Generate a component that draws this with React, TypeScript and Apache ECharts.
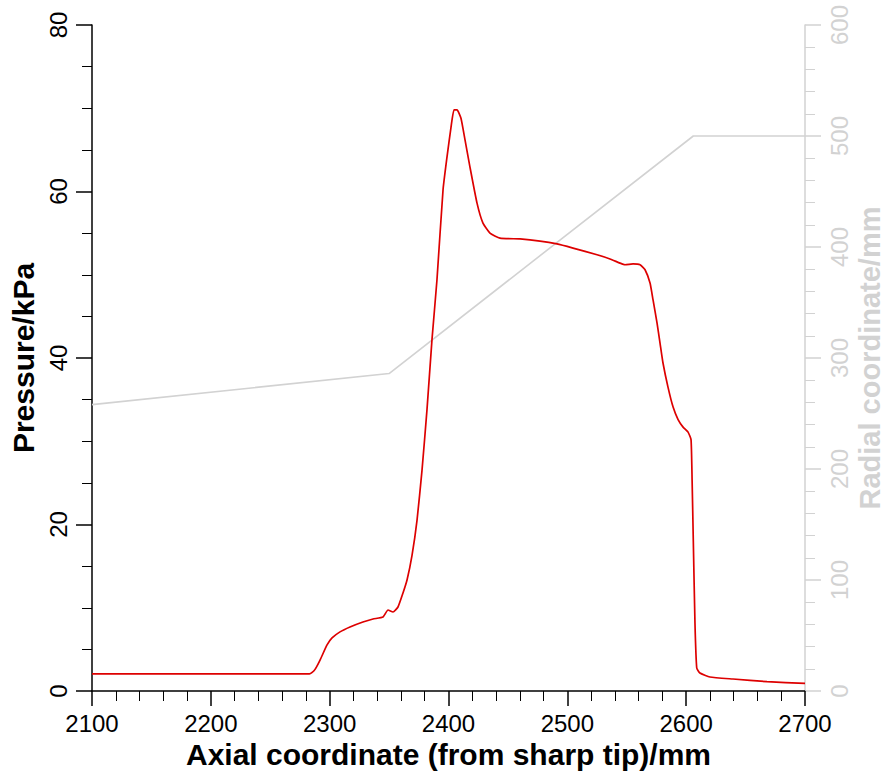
import React, { useEffect, useRef } from "react";
import * as echarts from "echarts";

// Axial coordinate (mm) and pressure (kPa)
const axialP: number[] = [
  2100, 2150, 2200, 2250, 2283, 2285, 2287.7, 2291.9, 2297.8, 2302, 2308.7, 2317.1, 2328,
  2336.5, 2344.9, 2349.1, 2353.3, 2357.5, 2361.7, 2365.1, 2369.3, 2373.5, 2377.7, 2381.9,
  2386.1, 2390.3, 2395.4, 2398.7, 2402.1, 2404.6, 2407.2, 2410.5, 2413.9, 2418.1, 2424,
  2429, 2434.9, 2443.3, 2460.2, 2477, 2491.3, 2504.8, 2525, 2535.9, 2544.3, 2548.5, 2555.3,
  2561.2, 2565.4, 2569.6, 2572.1, 2575.5, 2578, 2580.5, 2584.7, 2589, 2593.2, 2597.4,
  2601.6, 2604.1, 2605, 2606, 2607.4, 2608.9, 2611.6, 2620, 2639.4, 2668, 2700,
];
const pressure: number[] = [
  2.05, 2.05, 2.05, 2.05, 2.05, 2.2, 2.6, 3.72, 5.53, 6.37, 7.1, 7.69, 8.29,
  8.65, 8.89, 9.73, 9.49, 10.09, 11.77, 13.33, 16.3, 20.5, 26.5, 33.8,
  42.2, 49.4, 60.2, 64.1, 67.7, 69.8, 69.8, 68.8, 66.2, 62.9, 58.6,
  56.2, 55, 54.4, 54.3, 54.05, 53.7, 53.2, 52.4, 51.9, 51.4, 51.2, 51.3,
  51.2, 50.6, 49, 47, 44.2, 41.8, 39.4, 36.5, 34.1, 32.6, 31.7,
  31.1, 30.2, 25.3, 18.1, 8.2, 2.76, 2.16, 1.68, 1.44, 1.12, 0.92,
];

// Radial coordinate (mm) profile
const axialR: number[] = [2100, 2350, 2606, 2700];
const radial: number[] = [258, 286, 500, 500];

const FONT = "'Liberation Sans', Arial, Helvetica, sans-serif";
const GRAY = "#d2d2d2";
const RED = "#dd0000";

const plain = (v: number) => String(v);

export default function App() {
  const ref = useRef<HTMLDivElement>(null);
  useEffect(() => {
    if (!ref.current) return;
    const chart = echarts.init(ref.current, null, { renderer: "svg" });
    const pData = axialP.map((x, i) => [x, pressure[i]]);
    const rData = axialR.map((x, i) => [x, radial[i]]);
    chart.setOption({
      animation: false,
      backgroundColor: "#fff",
      grid: { left: 92, right: 82, top: 25, bottom: 80, containLabel: false, outerBoundsMode: "none" },
      xAxis: {
        type: "value",
        min: 2100,
        max: 2700,
        interval: 100,
        name: "Axial coordinate (from sharp tip)/mm",
        nameLocation: "middle",
        nameGap: 46,
        nameTextStyle: { fontFamily: FONT, fontSize: 30, fontWeight: "bold", color: "#000" },
        axisLine: { show: true, onZero: false, lineStyle: { color: "#000", width: 1.5 } },
        axisTick: { show: true, inside: false, length: 15, lineStyle: { color: "#000", width: 1.5 } },
        minorTick: { show: true, splitNumber: 5, length: 10, lineStyle: { color: "#000", width: 1 } },
        axisLabel: { fontFamily: FONT, fontSize: 24, color: "#000", margin: 20, formatter: plain },
        splitLine: { show: false },
      },
      yAxis: [
        {
          type: "value",
          min: 0,
          max: 80,
          interval: 20,
          position: "left",
          name: "Pressure/kPa",
          nameLocation: "middle",
          nameRotate: 90,
          nameGap: 52,
          nameTextStyle: { fontFamily: FONT, fontSize: 30, fontWeight: "bold", color: "#000" },
          axisLine: { show: true, onZero: false, lineStyle: { color: "#000", width: 1.5 } },
          axisTick: { show: true, inside: false, length: 16, lineStyle: { color: "#000", width: 1.5 } },
          minorTick: { show: true, splitNumber: 4, length: 10, lineStyle: { color: "#000", width: 1 } },
          axisLabel: { fontFamily: FONT, fontSize: 24, color: "#000", margin: 22, rotate: 90, formatter: plain },
          splitLine: { show: false },
        },
        {
          type: "value",
          min: 0,
          max: 600,
          interval: 100,
          position: "right",
          name: "Radial coordinate/mm",
          nameLocation: "middle",
          nameRotate: 90,
          nameGap: 50,
          nameMoveOverlap: false,
          nameTextStyle: { fontFamily: FONT, fontSize: 29, fontWeight: "bold", color: GRAY },
          axisLine: { show: true, onZero: false, lineStyle: { color: GRAY, width: 1.5 } },
          axisTick: { show: true, inside: false, length: 16, lineStyle: { color: GRAY, width: 1.5 } },
          minorTick: { show: true, splitNumber: 5, length: 10, lineStyle: { color: GRAY, width: 1 } },
          axisLabel: { fontFamily: FONT, fontSize: 24, color: GRAY, margin: 22, rotate: 90, formatter: plain },
          splitLine: { show: false },
        },
      ],
      series: [
        {
          type: "line",
          name: "Radial coordinate",
          yAxisIndex: 1,
          data: rData,
          showSymbol: false,
          lineStyle: { color: GRAY, width: 1.6 },
          itemStyle: { color: GRAY },
          z: 1,
        },
        {
          type: "line",
          name: "Pressure",
          yAxisIndex: 0,
          data: pData,
          showSymbol: false,
          smooth: 0.15,
          lineStyle: { color: RED, width: 1.7 },
          itemStyle: { color: RED },
          z: 2,
        },
      ],
    });
    return () => chart.dispose();
  }, []);
  return <div ref={ref} style={{ width: 887, height: 771, position: "absolute", left: 0, top: 0 }} />;
}
